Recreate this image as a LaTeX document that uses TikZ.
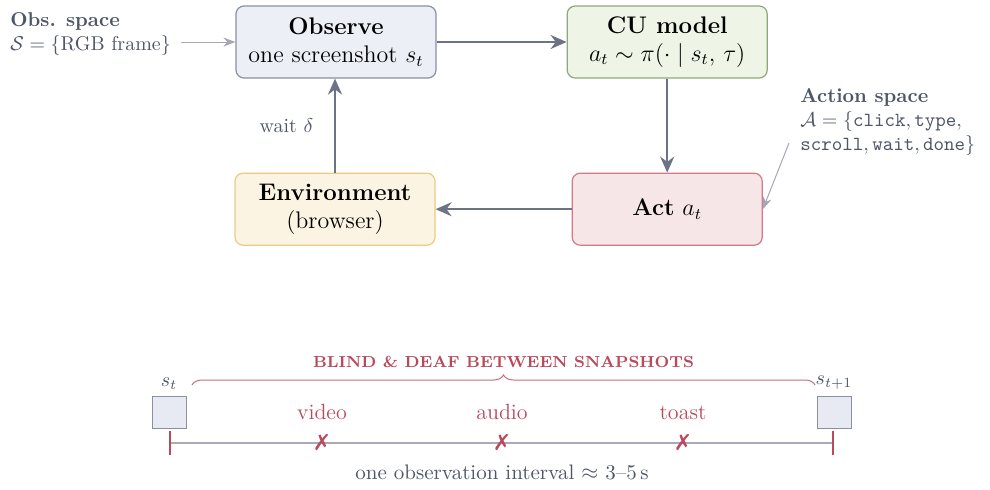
\documentclass[tikz,border=0pt]{standalone}
\usepackage{amsmath,amssymb}
\usepackage{fontspec}
\newfontfamily\symfont{DejaVu Sans}
\usetikzlibrary{arrows.meta,positioning,decorations.pathreplacing}

\definecolor{flowgray}{HTML}{6B7385}
\definecolor{notegray}{HTML}{4E5668}
\definecolor{hintgray}{HTML}{A4A8B4}
\definecolor{axisgray}{HTML}{A8ABB6}
\definecolor{obsfill}{HTML}{ECEFF5}
\definecolor{obsline}{HTML}{8A90A0}
\definecolor{cufill}{HTML}{EEF4E6}
\definecolor{culine}{HTML}{8FA878}
\definecolor{actfill}{HTML}{F6E6E8}
\definecolor{actline}{HTML}{D27A88}
\definecolor{envfill}{HTML}{FCF4E2}
\definecolor{envline}{HTML}{EACB86}
\definecolor{missred}{HTML}{B84A5C}
\definecolor{snapfill}{HTML}{E7EAF2}

\begin{document}
\begin{tikzpicture}[x=0.5pt,y=-0.5pt,
  box/.style={draw,rounded corners=4pt,align=center,minimum width=100pt,minimum height=36pt,inner ysep=2pt,line width=0.6pt,font=\large},
  flow/.style={-{Stealth[length=8pt,width=7pt]},line width=1.1pt,draw=flowgray},
  note/.style={align=left,text=notegray,inner sep=1pt},
  hint/.style={-{Stealth[length=6pt,width=4.5pt]},draw=hintgray,line width=0.5pt},
  snap/.style={draw=obsline,fill=snapfill,minimum width=17pt,minimum height=16pt,inner sep=0pt,line width=0.5pt},
  tick/.style={draw=missred,line width=0.8pt},
  miss/.style={text=missred,inner sep=1pt,font=\fontsize{11}{13}\selectfont}]
\useasboundingbox (0,0) rectangle (990,489);
% loop
\node[box,fill=obsfill,draw=obsline] (obs) at (336,42) {\textbf{Observe}\\one screenshot $s_t$};
\node[box,fill=cufill,draw=culine,right=65pt of obs] (cu) {\textbf{CU model}\\$a_t\sim\pi(\cdot\mid s_t,\,\tau)$};
\node[box,fill=actfill,draw=actline,below=47pt of cu,minimum width=95pt] (act) {\textbf{Act} $a_t$};
\node[box,fill=envfill,draw=envline,left=68pt of act] (env) {\textbf{Environment}\\(browser)};
\draw[flow] (obs)--(cu);
\draw[flow] (cu)--(act);
\draw[flow] (act)--(env);
\draw[flow] (env.north)--(env.north |- obs.south) node[midway,left=7pt,text=notegray] (wait) {wait $\delta$};
% spaces
\node[note,anchor=north west] (obsnote) at (8,10) {\textbf{Obs. space}\\$\mathcal{S}=\{\text{RGB frame}\}$};
\draw[hint] ([xshift=4pt]obsnote.east |- obs.west)--(obs.west);
\node[note,anchor=north west] (actnote) at (798,86) {\textbf{Action space}\\$\mathcal{A}=\{\texttt{click},\texttt{type},$\\$\texttt{scroll},\texttt{wait},\texttt{done}\}$};
\coordinate (acttip) at (789,143);
\draw[hint] (acttip)--(act.east);
% timeline
\coordinate (t0) at (170,443);
\coordinate (t1) at (833,443);
\draw[draw=axisgray,line width=1.2pt] (t0)--(t1);
\draw[tick] ([yshift=6pt]t0)--([yshift=-6pt]t0);
\draw[tick] ([yshift=6pt]t1)--([yshift=-6pt]t1);
\node[snap] (sq0) at (169,412) {};
\node[snap] (sq1) at (834,412) {};
\node[above=2pt of sq0,text=notegray,inner sep=1pt] (s0) {$s_t$};
\node[above=2pt of sq1,text=notegray,inner sep=1pt] (s1) {$s_{t+1}$};
\draw[draw=missred!80,line width=0.5pt,decorate,decoration={brace,amplitude=5pt}] (192,385)--(815,385)
  node[midway,above=5pt,text=missred] (blind) {\footnotesize\bfseries\addfontfeature{LetterSpace=6}BLIND \& DEAF BETWEEN SNAPSHOTS};
\foreach \x/\lab in {322/video,502/audio,683/toast}{
  \node[miss] (x\lab) at (\x,443) {\symfont\bfseries ✗};
  \node[miss,above=5pt of x\lab] (l\lab) {\lab};
}
\node[text=notegray,font=\fontsize{10.5}{12.5}\selectfont] (interval) at (502,472) {one observation interval $\approx$ 3--5\,s};
\end{tikzpicture}
\end{document}
